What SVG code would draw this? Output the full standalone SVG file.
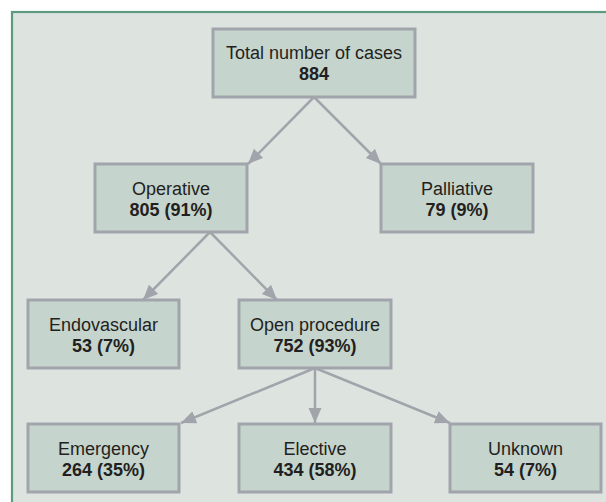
<svg xmlns="http://www.w3.org/2000/svg" width="606" height="502" viewBox="0 0 606 502">
<defs>
<style>
.box{fill:#c5d4cc;stroke:#a1a5ab;stroke-width:3}
.t{font-family:"Liberation Sans",Arial,sans-serif;font-size:18px;fill:#231f20;text-anchor:middle}
.b{font-weight:bold}
.c{stroke:#a1a5ab;stroke-width:2.5;fill:none;marker-end:url(#ah)}
</style>
<marker id="ah" markerUnits="userSpaceOnUse" markerWidth="16" markerHeight="14" refX="15" refY="6.5" orient="auto">
<path d="M0,0 L15,6.5 L0,13 z" fill="#a1a5ab"/>
</marker>
</defs>
<rect x="0" y="0" width="606" height="502" fill="#ffffff"/>
<rect x="12" y="12" width="604" height="500" fill="#dde4e0" stroke="#5c9b80" stroke-width="2.2"/>
<g id="connectors">
<line class="c" x1="314" y1="97" x2="248" y2="164"/>
<line class="c" x1="314" y1="97" x2="381" y2="164"/>
<line class="c" x1="210" y1="232" x2="143" y2="300"/>
<line class="c" x1="210" y1="232" x2="277" y2="300"/>
<line class="c" x1="315" y1="368" x2="181" y2="423"/>
<line class="c" x1="315" y1="368" x2="315" y2="423"/>
<line class="c" x1="315" y1="368" x2="450" y2="423"/>
</g>
<g id="total">
<rect class="box" x="213" y="29" width="202" height="68"/>
<text class="t" x="314" y="59">Total number of cases</text>
<text class="t b" x="314" y="80">884</text>
</g>
<g id="operative">
<rect class="box" x="95" y="164" width="152" height="68"/>
<text class="t" x="171" y="195">Operative</text>
<text class="t b" x="171" y="216">805 (91%)</text>
</g>
<g id="palliative">
<rect class="box" x="381" y="164" width="152" height="68"/>
<text class="t" x="457" y="195">Palliative</text>
<text class="t b" x="457" y="216">79 (9%)</text>
</g>
<g id="endovascular">
<rect class="box" x="28" y="300" width="151" height="68"/>
<text class="t" x="103.5" y="331">Endovascular</text>
<text class="t b" x="103.5" y="352">53 (7%)</text>
</g>
<g id="open">
<rect class="box" x="239" y="300" width="152" height="68"/>
<text class="t" x="315" y="331">Open procedure</text>
<text class="t b" x="315" y="352">752 (93%)</text>
</g>
<g id="emergency">
<rect class="box" x="28" y="424" width="151" height="68"/>
<text class="t" x="103.5" y="455">Emergency</text>
<text class="t b" x="103.5" y="476">264 (35%)</text>
</g>
<g id="elective">
<rect class="box" x="239" y="424" width="152" height="68"/>
<text class="t" x="315" y="455">Elective</text>
<text class="t b" x="315" y="476">434 (58%)</text>
</g>
<g id="unknown">
<rect class="box" x="450" y="424" width="151" height="68"/>
<text class="t" x="525.5" y="455">Unknown</text>
<text class="t b" x="525.5" y="476">54 (7%)</text>
</g>
</svg>
